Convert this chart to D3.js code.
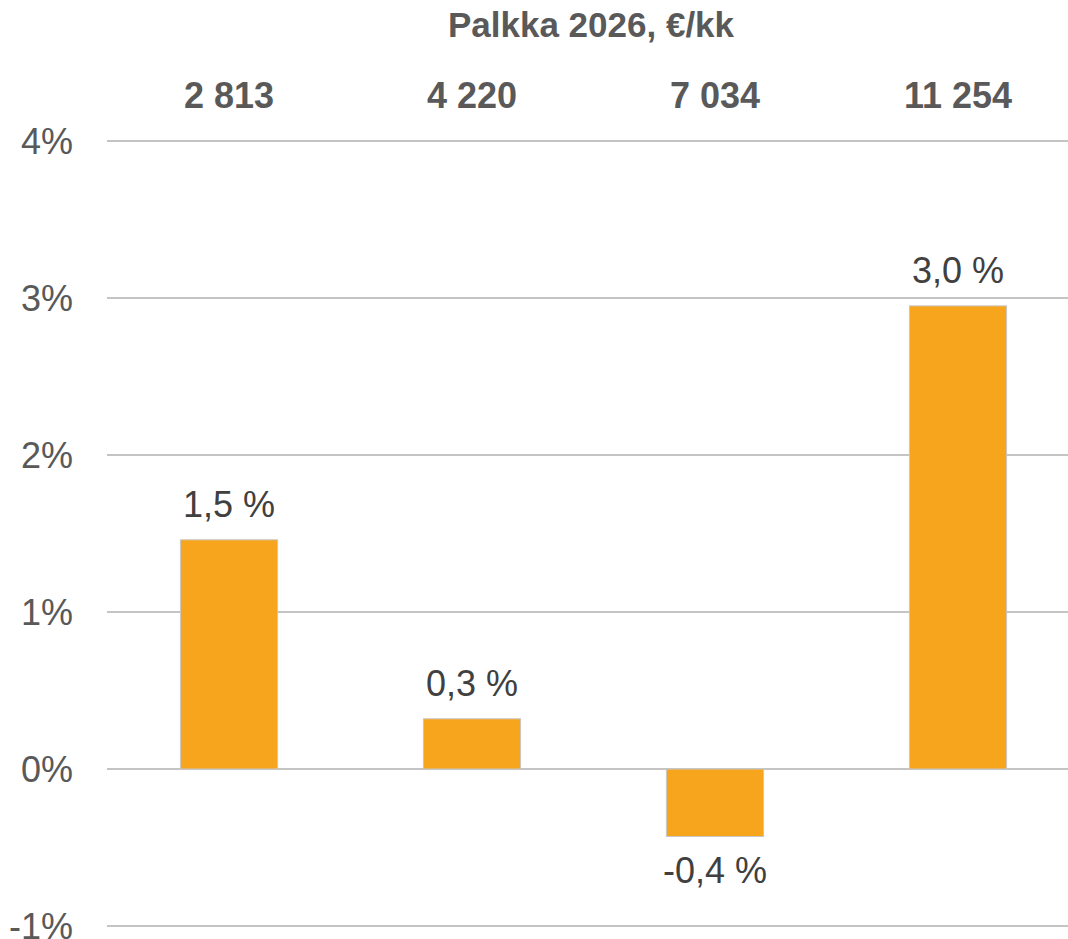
<!DOCTYPE html>
<html>
<head>
<meta charset="utf-8">
<script src="https://cdn.jsdelivr.net/npm/d3@7"></script>
<style>
html,body{margin:0;padding:0;background:#fff;}
svg{display:block;}
</style>
</head>
<body>
<svg id="chart" width="1068" height="939"></svg>
<script>
const title = "Palkka 2026, €/kk";
const categories = ["2 813", "4 220", "7 034", "11 254"];
const values = [1.46, 0.32, -0.43, 2.95];
const valueLabels = ["1,5 %", "0,3 %", "-0,4 %", "3,0 %"];
const yTicks = [-1, 0, 1, 2, 3, 4];

const svg = d3.select("#chart");
const font = "'Liberation Sans', Arial, sans-serif";

const y = d3.scaleLinear().domain([-1, 4]).range([926, 141]);
const x = d3.scaleBand().domain(categories).range([107.5, 1079.5]).paddingInner(0.6).paddingOuter(0.3);

// gridlines
svg.append("g").selectAll("line").data(yTicks).join("line")
  .attr("x1", 107).attr("x2", 1068)
  .attr("y1", d => y(d)).attr("y2", d => y(d))
  .attr("stroke", "#c4c4c4").attr("stroke-width", 2);

// y tick labels
svg.append("g").selectAll("text").data(yTicks).join("text")
  .attr("x", 73).attr("y", d => y(d) + 13)
  .attr("text-anchor", "end")
  .attr("font-family", font).attr("font-size", 36)
  .attr("fill", "#595959")
  .text(d => d + "%");

// bars
svg.append("g").selectAll("rect").data(values).join("rect")
  .attr("x", (d, i) => x(categories[i]))
  .attr("width", x.bandwidth())
  .attr("y", d => Math.min(y(d), y(0)))
  .attr("height", d => Math.abs(y(d) - y(0)))
  .attr("fill", "#F7A51D")
  .attr("stroke", "#c8c8c8").attr("stroke-width", 1);

// value labels
svg.append("g").selectAll("text").data(values).join("text")
  .attr("x", (d, i) => x(categories[i]) + x.bandwidth() / 2)
  .attr("y", d => d >= 0 ? y(d) - 23 : y(d) + 46)
  .attr("text-anchor", "middle")
  .attr("font-family", font).attr("font-size", 36)
  .attr("fill", "#404040")
  .text((d, i) => valueLabels[i]);

// category labels (top)
svg.append("g").selectAll("text").data(categories).join("text")
  .attr("x", d => x(d) + x.bandwidth() / 2)
  .attr("y", 108)
  .attr("text-anchor", "middle")
  .attr("font-family", font).attr("font-size", 36).attr("font-weight", "bold")
  .attr("fill", "#595959")
  .text(d => d);

// title
svg.append("text")
  .attr("x", 591).attr("y", 37)
  .attr("text-anchor", "middle")
  .attr("font-family", font).attr("font-size", 35).attr("font-weight", "bold")
  .attr("fill", "#595959")
  .text(title);
</script>
</body>
</html>
